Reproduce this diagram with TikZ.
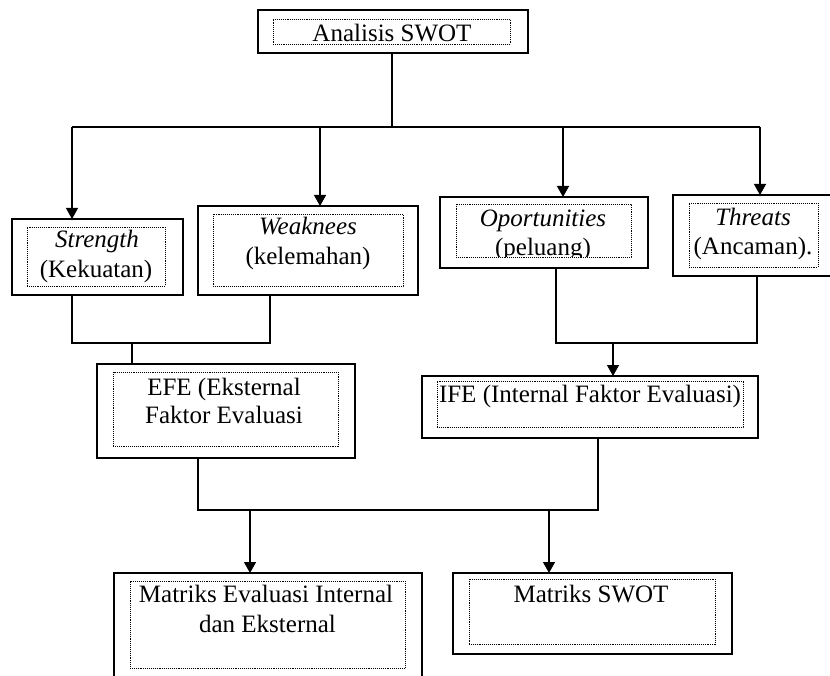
\documentclass[tikz,border=0pt]{standalone}
\usepackage{fontspec}
\setmainfont{Liberation Serif}
\usetikzlibrary{arrows.meta}
\begin{document}
\begin{tikzpicture}[x=1pt,y=-1pt,
  outerbox/.style={draw,line width=1.4pt,inner sep=0pt,outer sep=0pt},
  innerbox/.style={draw,line width=0.9pt,dash pattern=on 1pt off 0.9pt,inner sep=0pt,outer sep=0pt},
  txt/.style={anchor=base,inner sep=0pt,font=\fontsize{25}{29}\selectfont},
  conn/.style={line width=1.3pt},
  arr/.style={line width=1.3pt,-{Triangle[length=11pt,width=12pt]}}]
\useasboundingbox (0,0) rectangle (830,676);
% outer boxes
\node[outerbox,minimum width=270pt,minimum height=43pt] (swot) at (393,31.5) {};
\node[outerbox,minimum width=171pt,minimum height=76pt] (str) at (97.5,257) {};
\node[outerbox,minimum width=220pt,minimum height=89pt] (weak) at (308,250.5) {};
\node[outerbox,minimum width=208pt,minimum height=71pt] (opp) at (544,232.5) {};
\node[outerbox,minimum width=164pt,minimum height=81pt] (thr) at (755,235.5) {};
\node[outerbox,minimum width=258pt,minimum height=94pt] (efe) at (226,411) {};
\node[outerbox,minimum width=336pt,minimum height=62pt] (ife) at (590,407) {};
\node[outerbox,minimum width=308pt,minimum height=120pt] (mei) at (268,633) {};
\node[outerbox,minimum width=279pt,minimum height=81pt] (ms) at (592.5,613.5) {};
% inner dotted boxes
\node[innerbox,minimum width=237pt,minimum height=25pt] (swoti) at (391.5,31.5) {};
\node[innerbox,minimum width=138pt,minimum height=59pt] (stri) at (96,256.5) {};
\node[innerbox,minimum width=190pt,minimum height=72pt] (weaki) at (308,250) {};
\node[innerbox,minimum width=175pt,minimum height=53pt] (oppi) at (543.5,230.5) {};
\node[innerbox,minimum width=129pt,minimum height=64pt] (thri) at (753.5,235) {};
\node[innerbox,minimum width=225pt,minimum height=74pt] (efei) at (225.5,409) {};
\node[innerbox,minimum width=306pt,minimum height=46pt] (ifei) at (590,404) {};
\node[innerbox,minimum width=275pt,minimum height=87pt] (meii) at (267.5,624.5) {};
\node[innerbox,minimum width=246pt,minimum height=65pt] (msi) at (592,611.5) {};
% texts
\node[txt] (t1) at (392,42) {Analisis SWOT};
\node[txt] (t2) at (97,248) {\itshape Strength};
\node[txt] (t3) at (96,278) {(Kekuatan)};
\node[txt] (t4) at (308,235) {\itshape Weaknees};
\node[txt] (t5) at (308,265) {(kelemahan)};
\node[txt] (t6) at (543,227) {\itshape Oportunities};
\begin{scope}
\clip (oppi.north west) rectangle (oppi.south east);
\node[txt] (t7) at (543,256) {(peluang)};
\end{scope}
\node[txt] (t8) at (753,226) {\itshape Threats};
\node[txt] (t9) at (753,255) {(Ancaman).};
\node[txt] (t10) at (224,395) {EFE (Eksternal};
\node[txt] (t11) at (224,423) {Faktor Evaluasi};
\node[txt] (t12) at (590,402) {IFE (Internal Faktor Evaluasi)};
\node[txt] (t13) at (266,602) {Matriks Evaluasi Internal};
\node[txt] (t14) at (267.5,632) {dan Eksternal};
\node[txt] (t15) at (591,602) {Matriks SWOT};
% connectors top
\coordinate (bar) at (392,127);
\coordinate (b1) at (72,127);
\coordinate (b2) at (320,127);
\coordinate (b3) at (563,127);
\coordinate (b4) at (760,127);
\draw[conn] (swot.south -| bar) -- (bar);
\draw[conn] (b1) -- (b4);
\draw[arr] (b1) -- (b1 |- str.north);
\draw[arr] (b2) -- (b2 |- weak.north);
\draw[arr] (b3) -- (b3 |- opp.north);
\draw[arr] (b4) -- (b4 |- thr.north);
% middle left
\coordinate (m1) at (72,343);
\coordinate (m2) at (270,343);
\coordinate (m3) at (132,343);
\draw[conn] (m1 |- str.south) -- (m1) -- (m2) -- (m2 |- weak.south);
\draw[conn] (m3) -- (m3 |- efe.north);
% middle right
\coordinate (n1) at (556,343);
\coordinate (n2) at (757,343);
\coordinate (n3) at (613,343);
\draw[conn] (n1 |- opp.south) -- (n1) -- (n2) -- (n2 |- thr.south);
\draw[arr] (n3) -- (n3 |- ife.north);
% bottom
\coordinate (p1) at (198,510);
\coordinate (p2) at (598,510);
\coordinate (p3) at (250,510);
\coordinate (p4) at (549,510);
\draw[conn] (p1 |- efe.south) -- (p1) -- (p2) -- (p2 |- ife.south);
\draw[arr] (p3) -- (p3 |- mei.north);
\draw[arr] (p4) -- (p4 |- ms.north);
\end{tikzpicture}
\end{document}
